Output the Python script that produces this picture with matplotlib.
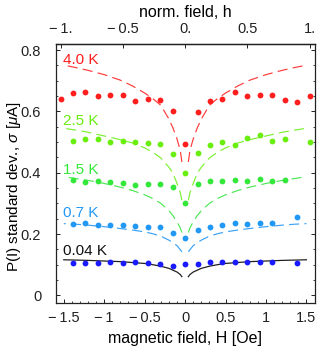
import numpy as np
import matplotlib
matplotlib.use("Agg")
import matplotlib.pyplot as plt
from matplotlib.ticker import FixedLocator, MultipleLocator

plt.rcParams['font.family'] = ['Liberation Sans', 'DejaVu Sans']
plt.rcParams['mathtext.fontset'] = 'custom'
plt.rcParams['mathtext.it'] = 'Liberation Sans:italic'
plt.rcParams['mathtext.rm'] = 'Liberation Sans'

# ---------------- data ----------------
H_NORM = 1.54  # Oe corresponding to h = 1
nan = np.nan

# measurement field positions (Oe)
H_points = [-1.54, -1.386, -1.232, -1.078, -0.924, -0.77, -0.616, -0.462, -0.308, -0.154,
            0.0, 0.154, 0.308, 0.462, 0.616, 0.77, 0.924, 1.078, 1.232, 1.386, 1.54]

sigma_4K0 = [0.641, 0.660, 0.665, 0.651, 0.654, 0.652, 0.635, 0.639, 0.637, 0.600,
             0.495, 0.598, 0.635, 0.640, 0.664, 0.649, 0.652, 0.654, 0.636, 0.630, 0.650]
sigma_2K5 = [nan, 0.502, 0.509, 0.510, 0.501, 0.505, 0.500, 0.497, 0.493, 0.460,
             0.399, 0.466, 0.490, 0.501, 0.492, 0.512, 0.524, 0.505, 0.509, nan, 0.500]
sigma_1K5 = [nan, 0.375, 0.370, 0.372, 0.369, 0.365, 0.359, 0.363, 0.362, 0.354,
             0.300, 0.364, 0.372, 0.372, 0.377, 0.373, 0.381, 0.372, 0.375, nan, nan]
sigma_0K7 = [nan, 0.234, 0.235, 0.230, 0.230, 0.229, 0.227, 0.224, 0.222, 0.204,
             0.187, 0.212, 0.222, 0.228, 0.237, 0.232, 0.235, 0.237, nan, 0.256, nan]
sigma_0K04 = [nan, 0.105, 0.105, 0.105, 0.109, 0.107, 0.109, 0.105, 0.102, 0.097,
              0.101, 0.101, 0.108, 0.108, 0.110, 0.108, 0.109, 0.108, nan, 0.106, nan]

# model curves, read at |H| (symmetric in H)
H_curve = [0.04, 0.06, 0.1, 0.15, 0.2, 0.3, 0.4, 0.5, 0.65, 0.8, 1.0, 1.2, 1.35, 1.5]
fit_4K0 = [0.435, 0.473, 0.510, 0.546, 0.575, 0.620, 0.642, 0.660, 0.683, 0.702, 0.720, 0.734, 0.743, 0.751]
fit_2K5 = [0.310, 0.335, 0.365, 0.398, 0.418, 0.448, 0.467, 0.481, 0.497, 0.508, 0.520, 0.532, 0.539, 0.545]
fit_1K5 = [0.205, 0.220, 0.240, 0.260, 0.276, 0.300, 0.316, 0.328, 0.342, 0.353, 0.365, 0.375, 0.381, 0.387]
fit_0K7 = [0.142, 0.149, 0.162, 0.172, 0.180, 0.193, 0.201, 0.207, 0.213, 0.218, 0.224, 0.229, 0.232, 0.234]
fit_0K04 = [0.061, 0.068, 0.076, 0.082, 0.088, 0.095, 0.100, 0.104, 0.107, 0.110, 0.112, 0.114, 0.115, 0.116]

labels = ['4.0 K', '2.5 K', '1.5 K', '0.7 K', '0.04 K']
label_y = [0.755, 0.555, 0.397, 0.254, 0.132]
point_colors = ['#ff1e1e', '#6aee10', '#33e83a', '#2298f5', '#1a1aff']
line_colors = ['#ff3a3a', '#7cf030', '#4ce855', '#3aa2f5', '#222222']
label_colors = ['#ff1e1e', '#6aee10', '#33e83a', '#2298f5', '#111111']

points = [sigma_4K0, sigma_2K5, sigma_1K5, sigma_0K7, sigma_0K04]
fits = [fit_4K0, fit_2K5, fit_1K5, fit_0K7, fit_0K04]

x_ticks = [-1.5, -1, -0.5, 0, 0.5, 1, 1.5]
x_ticklabels = ['\u2212\u20091.5', '\u2212\u20091', '\u2212\u20090.5', '0', '0.5', '1', '1.5']
y_ticks = [0, 0.2, 0.4, 0.6, 0.8]
y_ticklabels = ['0', '0.2', '0.4', '0.6', '0.8']
h_ticks = [-1, -0.5, 0, 0.5, 1]
h_ticklabels = ['\u2212\u20091.', '\u2212\u20090.5', '0.', '0.5', '1.']

# ---------------- plot ----------------
fig = plt.figure(figsize=(3.18, 3.47), dpi=100)
ax = fig.add_axes([0.1752, 0.1268, 0.8138, 0.7464])

Hc = np.array(H_curve)
for i in range(len(labels)):
    pc, lc = point_colors[i], line_colors[i]
    f = np.array(fits[i])
    if i == 4:
        ls = dict(linestyle='-', linewidth=0.9)
    else:
        ls = dict(linestyle=(0, (8.5, 4.5)), linewidth=0.85)
    ax.plot(Hc, f, color=lc, **ls)
    ax.plot(-Hc, f, color=lc, **ls)
    ax.plot(H_points, points[i], 'o', color=pc, markersize=4.2, markeredgewidth=0, zorder=3)
    ax.text(-1.51, label_y[i], labels[i], color=label_colors[i], fontsize=11,
            ha='left', va='baseline')

ax.set_xlim(-1.6, 1.6)
ax.set_ylim(-0.025, 0.82)

ax.set_xticks(x_ticks)
ax.set_xticklabels(x_ticklabels)
ax.set_yticks(y_ticks)
ax.set_yticklabels(y_ticklabels)
ax.xaxis.set_minor_locator(MultipleLocator(0.1))
ax.yaxis.set_minor_locator(MultipleLocator(0.05))
ax.tick_params(which='both', direction='in', top=False, right=True, labelsize=10.5, colors='#222222')
ax.tick_params(which='major', length=3.2, width=0.7)
ax.tick_params(which='minor', length=1.6, width=0.6)
ax.tick_params(axis='x', which='major', pad=5.5)
ax.tick_params(axis='y', which='major', pad=10.5)
for s in ax.spines.values():
    s.set_linewidth(0.9)
    s.set_color('#222222')

ax.set_xlabel('magnetic field, H [Oe]', fontsize=11.5)
ax.xaxis.set_label_coords(0.5, -0.11)
ax.set_ylabel('P(I) standard dev., $\\sigma$ [$\\mu$A]', fontsize=11)
ax.yaxis.set_label_coords(-0.128, 0.45)

sec = ax.secondary_xaxis('top', functions=(lambda H: H / H_NORM, lambda h: h * H_NORM))
sec.xaxis.set_major_locator(FixedLocator(h_ticks))
sec.set_xticklabels(h_ticklabels)
sec.tick_params(direction='in', length=3.2, width=0.7, labelsize=10.5, pad=5.5, colors='#222222')
sec.set_xlabel('norm. field, h', fontsize=11.5)
sec.spines['top'].set_linewidth(0.9)

fig.savefig('out.png', dpi=100)
